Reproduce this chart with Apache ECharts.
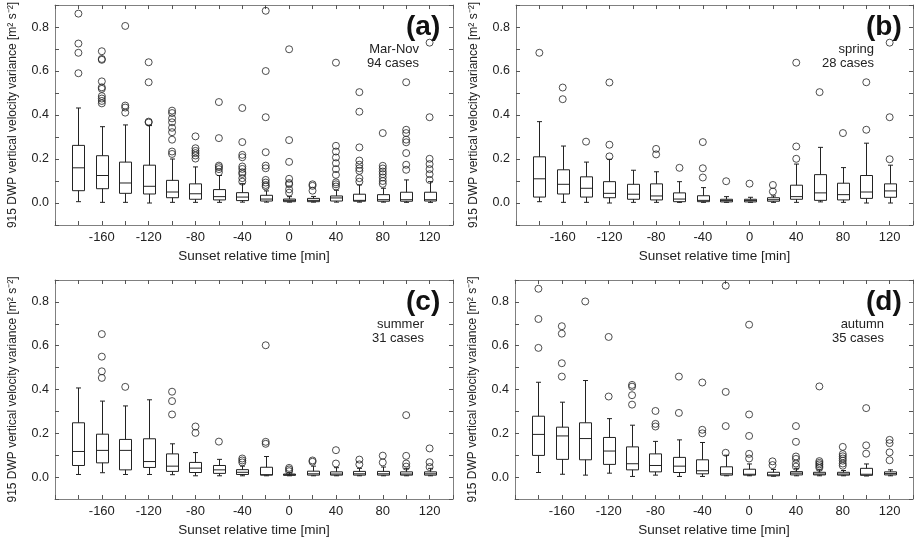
<!DOCTYPE html>
<html>
<head>
<meta charset="utf-8">
<script src="https://cdn.jsdelivr.net/npm/echarts@6/dist/echarts.min.js"></script>
<style>
  html, body { margin: 0; padding: 0; background: #fff; }
  #main { width: 916px; height: 543px; }
</style>
</head>
<body>
<div id="main"></div>
<script>
// sunset relative time of each box [min]
var times = [-180, -160, -140, -120, -100, -80, -60, -40, -20, 0, 20, 40, 60, 80, 100, 120];
var xTickLabels = [-160, -120, -80, -40, 0, 40, 80, 120];
var yTickLabels = [0.0, 0.2, 0.4, 0.6, 0.8];

// box stats per time: [min, Q1, median, Q3, max]
var boxA = [
  [0.006, 0.056, 0.160, 0.262, 0.432], [0.003, 0.065, 0.125, 0.215, 0.347], [0.003, 0.044, 0.091, 0.186, 0.355],
  [0.000, 0.041, 0.076, 0.172, 0.352], [0.003, 0.024, 0.050, 0.103, 0.200], [0.003, 0.017, 0.042, 0.087, 0.164],
  [0.003, 0.014, 0.029, 0.061, 0.125], [0.004, 0.011, 0.027, 0.047, 0.088], [0.004, 0.009, 0.018, 0.035, 0.055],
  [0.004, 0.006, 0.012, 0.018, 0.029], [0.004, 0.006, 0.012, 0.021, 0.030], [0.004, 0.009, 0.023, 0.032, 0.058],
  [0.004, 0.008, 0.012, 0.040, 0.082], [0.004, 0.008, 0.015, 0.038, 0.067], [0.003, 0.008, 0.015, 0.049, 0.105],
  [0.003, 0.009, 0.015, 0.049, 0.097]
];
var outA = [
  [0.861, 0.725, 0.683, 0.590],
  [0.690, 0.655, 0.651, 0.553, 0.526, 0.519, 0.486, 0.475, 0.464, 0.453],
  [0.805, 0.443, 0.434, 0.411],
  [0.640, 0.549, 0.370, 0.366],
  [0.420, 0.409, 0.385, 0.367, 0.342, 0.322, 0.288, 0.234, 0.223],
  [0.303, 0.249, 0.237, 0.227, 0.216, 0.202],
  [0.459, 0.295, 0.170, 0.163, 0.154, 0.140],
  [0.432, 0.277, 0.219, 0.208, 0.166, 0.155, 0.140, 0.132, 0.113, 0.097],
  [0.874, 0.600, 0.390, 0.231, 0.170, 0.158, 0.105, 0.093, 0.082, 0.075],
  [0.699, 0.286, 0.187, 0.110, 0.091, 0.085, 0.062, 0.047],
  [0.085, 0.078, 0.056],
  [0.638, 0.260, 0.234, 0.207, 0.181, 0.154, 0.128, 0.094, 0.085, 0.075],
  [0.504, 0.415, 0.253, 0.193, 0.174, 0.158, 0.146, 0.113, 0.097],
  [0.318, 0.169, 0.157, 0.143, 0.131, 0.116, 0.100, 0.087],
  [0.549, 0.333, 0.318, 0.288, 0.276, 0.227, 0.174, 0.151],
  [0.729, 0.390, 0.201, 0.177, 0.154, 0.131, 0.105]
];

var boxB = [
  [0.006, 0.027, 0.110, 0.210, 0.370], [0.003, 0.041, 0.085, 0.151, 0.259], [0.003, 0.027, 0.067, 0.119, 0.186],
  [0.000, 0.024, 0.044, 0.097, 0.199], [0.003, 0.017, 0.040, 0.085, 0.149], [0.003, 0.014, 0.032, 0.087, 0.142],
  [0.003, 0.006, 0.018, 0.046, 0.097], [0.003, 0.006, 0.012, 0.033, 0.070], [0.003, 0.005, 0.011, 0.017, 0.029],
  [0.003, 0.005, 0.011, 0.017, 0.026], [0.003, 0.008, 0.015, 0.024, 0.032], [0.003, 0.017, 0.029, 0.081, 0.177],
  [0.005, 0.012, 0.046, 0.129, 0.253], [0.003, 0.014, 0.038, 0.090, 0.161], [0.000, 0.021, 0.050, 0.125, 0.272],
  [0.000, 0.026, 0.055, 0.087, 0.172]
];
var outB = [
  [0.683], [0.525, 0.472], [0.279], [0.548, 0.265, 0.212], [], [0.246, 0.221], [0.160],
  [0.277, 0.158, 0.116], [0.099], [0.088], [0.082, 0.052], [0.638, 0.257, 0.201],
  [0.504], [0.318], [0.549, 0.333], [0.729, 0.390, 0.199]
];

var boxC = [
  [0.012, 0.053, 0.117, 0.248, 0.407], [0.020, 0.065, 0.122, 0.196, 0.347], [0.012, 0.033, 0.122, 0.172, 0.325],
  [0.012, 0.044, 0.071, 0.175, 0.353], [0.011, 0.026, 0.050, 0.106, 0.152], [0.006, 0.021, 0.041, 0.067, 0.112],
  [0.006, 0.017, 0.033, 0.053, 0.081], [0.006, 0.012, 0.022, 0.034, 0.050], [0.006, 0.009, 0.011, 0.045, 0.094],
  [0.006, 0.008, 0.011, 0.014, 0.020], [0.006, 0.009, 0.015, 0.027, 0.050], [0.006, 0.009, 0.014, 0.024, 0.043],
  [0.006, 0.009, 0.015, 0.026, 0.040], [0.006, 0.009, 0.015, 0.026, 0.046], [0.006, 0.009, 0.014, 0.024, 0.040],
  [0.006, 0.009, 0.015, 0.024, 0.040]
];
var outC = [
  [], [0.653, 0.550, 0.483, 0.453], [0.412], [], [0.390, 0.347, 0.286], [0.231, 0.202], [0.162],
  [0.085, 0.076, 0.067], [0.602, 0.161, 0.152], [0.042, 0.035, 0.027], [0.076, 0.070], [0.123, 0.062],
  [0.080, 0.058], [0.098, 0.067], [0.283, 0.097, 0.062, 0.048], [0.131, 0.068, 0.046]
];

var boxD = [
  [0.021, 0.099, 0.195, 0.278, 0.433], [0.013, 0.081, 0.188, 0.228, 0.342], [0.009, 0.079, 0.176, 0.248, 0.441],
  [0.018, 0.058, 0.119, 0.181, 0.267], [0.003, 0.033, 0.061, 0.138, 0.237], [0.009, 0.024, 0.053, 0.106, 0.163],
  [0.003, 0.021, 0.050, 0.090, 0.170], [0.003, 0.015, 0.029, 0.079, 0.158], [0.006, 0.009, 0.015, 0.047, 0.100],
  [0.006, 0.009, 0.013, 0.036, 0.060], [0.004, 0.006, 0.010, 0.022, 0.035], [0.006, 0.010, 0.018, 0.025, 0.040],
  [0.006, 0.010, 0.014, 0.022, 0.033], [0.006, 0.009, 0.014, 0.022, 0.030], [0.005, 0.008, 0.013, 0.040, 0.060],
  [0.006, 0.010, 0.016, 0.024, 0.033]
];
var outD = [
  [0.860, 0.722, 0.590], [0.689, 0.655, 0.520, 0.459], [0.802], [0.640, 0.368],
  [0.421, 0.413, 0.374, 0.331], [0.302, 0.243, 0.231], [0.459, 0.293], [0.432, 0.216, 0.200],
  [0.874, 0.389, 0.233, 0.111], [0.696, 0.286, 0.188, 0.106, 0.085], [0.072, 0.055],
  [0.233, 0.161, 0.094, 0.083, 0.062, 0.048], [0.414, 0.073, 0.065, 0.058, 0.050, 0.042],
  [0.138, 0.105, 0.095, 0.085, 0.075, 0.062, 0.052], [0.315, 0.145, 0.107], [0.170, 0.155, 0.113, 0.077]
];

var panels = [
  { box: boxA, out: outA, tag: '(a)', line1: 'Mar-Nov', line2: '94 cases' },
  { box: boxB, out: outB, tag: '(b)', line1: 'spring', line2: '28 cases' },
  { box: boxC, out: outC, tag: '(c)', line1: 'summer', line2: '31 cases' },
  { box: boxD, out: outD, tag: '(d)', line1: 'autumn', line2: '35 cases' }
];
var grids = [
  { left: 55, top: 5, width: 398, height: 220 },
  { left: 516, top: 5, width: 397, height: 220 },
  { left: 55, top: 280, width: 398, height: 219 },
  { left: 515, top: 280, width: 398, height: 219 }
];
// right edge of the season / case-count text in each panel
var noteRight = [419, 874, 424, 884];

var font = '"Liberation Sans", Arial, Helvetica, sans-serif';
var frame = '#808080';
var ink = '#222';

function renderBox(params, api) {
  var x = api.value(0);
  var pMin = api.coord([x, api.value(1)]);
  var pQ1 = api.coord([x, api.value(2)]);
  var pMed = api.coord([x, api.value(3)]);
  var pQ3 = api.coord([x, api.value(4)]);
  var pMax = api.coord([x, api.value(5)]);
  var cx = Math.round(pMed[0]) + 0.5;
  var hw = 6, cw = 2.5;
  var st = { stroke: ink, lineWidth: 1, fill: null };
  function ln(x1, y1, x2, y2) {
    return { type: 'line', shape: { x1: x1, y1: y1, x2: x2, y2: y2 }, style: st };
  }
  return {
    type: 'group',
    children: [
      { type: 'rect', shape: { x: cx - hw, y: pQ3[1], width: hw * 2, height: pQ1[1] - pQ3[1] },
        style: { stroke: ink, lineWidth: 1, fill: 'none' } },
      ln(cx - hw, pMed[1], cx + hw, pMed[1]),
      ln(cx, pQ3[1], cx, pMax[1]),
      ln(cx, pQ1[1], cx, pMin[1]),
      ln(cx - cw, pMax[1], cx + cw, pMax[1]),
      ln(cx - cw, pMin[1], cx + cw, pMin[1])
    ]
  };
}

var option = {
  animation: false,
  backgroundColor: '#fff',
  textStyle: { fontFamily: font },
  grid: [],
  xAxis: [],
  yAxis: [],
  series: [],
  graphic: []
};

grids.forEach(function (g, k) {
  option.grid.push(g);
  var p = panels[k];
  var xBase = {
    gridIndex: k, type: 'value', min: -200, max: 140, interval: 20,
    axisLine: { show: true, onZero: false, lineStyle: { color: frame, width: 1 } },
    axisTick: { inside: true, length: 4, lineStyle: { color: '#555' } },
    splitLine: { show: false }
  };
  var yBase = {
    gridIndex: k, type: 'value', min: -0.1, max: 0.9, interval: 0.1,
    axisLine: { show: true, onZero: false, lineStyle: { color: frame, width: 1 } },
    axisTick: { inside: true, length: 4, lineStyle: { color: '#555' } },
    splitLine: { show: false }
  };
  option.xAxis.push(Object.assign({}, xBase, {
    position: 'bottom',
    name: 'Sunset relative time [min]',
    nameLocation: 'middle', nameGap: 24,
    nameTextStyle: { fontSize: 13.5, color: ink, fontFamily: font },
    axisLabel: {
      margin: 6, fontSize: 13, color: ink, fontFamily: font,
      formatter: function (v) { return xTickLabels.indexOf(v) >= 0 ? String(v) : ''; }
    }
  }));
  option.xAxis.push(Object.assign({}, xBase, { position: 'top', axisLabel: { show: false } }));
  option.yAxis.push(Object.assign({}, yBase, {
    position: 'left',
    name: '915 DWP vertical velocity variance [m\u00B2 s\u207B\u00B2]',
    nameLocation: 'middle', nameGap: 36,
    nameTextStyle: { fontSize: 12, color: ink, fontFamily: font },
    axisLabel: {
      margin: 6, fontSize: 12.5, color: ink, fontFamily: font,
      formatter: function (v) {
        var r = Math.round(v * 10) / 10;
        return yTickLabels.indexOf(r) >= 0 ? r.toFixed(1) : '';
      }
    }
  }));
  option.yAxis.push(Object.assign({}, yBase, { position: 'right', axisLabel: { show: false } }));

  var boxData = times.map(function (t, i) { return [t].concat(p.box[i]); });
  var outData = [];
  times.forEach(function (t, i) {
    p.out[i].forEach(function (v) { outData.push([t, v]); });
  });
  option.series.push({
    type: 'custom',
    xAxisIndex: k * 2, yAxisIndex: k * 2,
    renderItem: renderBox,
    encode: { x: 0, y: [1, 2, 3, 4, 5] },
    data: boxData,
    z: 3
  });
  option.series.push({
    type: 'scatter',
    xAxisIndex: k * 2, yAxisIndex: k * 2,
    symbol: 'circle', symbolSize: 7,
    itemStyle: { color: 'rgba(0,0,0,0)', borderColor: ink, borderWidth: 1 },
    data: outData,
    z: 4
  });

  var right = g.left + g.width;
  option.graphic.push({
    type: 'text', left: right - 47, top: g.top + 8,
    style: { text: p.tag, font: 'bold 28px ' + font, fill: '#111' }
  });
  option.graphic.push({
    type: 'text', right: 916 - noteRight[k], top: g.top + 38,
    style: { text: p.line1, font: '13px ' + font, fill: ink }
  });
  option.graphic.push({
    type: 'text', right: 916 - noteRight[k], top: g.top + 52,
    style: { text: p.line2, font: '13px ' + font, fill: ink }
  });
});

var chart = echarts.init(document.getElementById('main'), null, { renderer: 'canvas' });
chart.setOption(option);
</script>
</body>
</html>
